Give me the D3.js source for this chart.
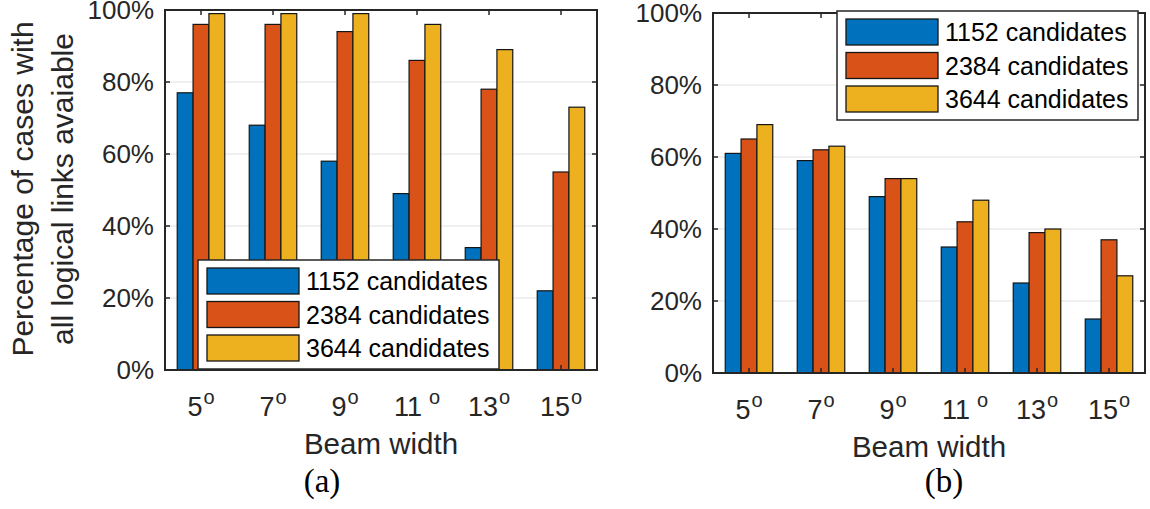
<!DOCTYPE html>
<html>
<head>
<meta charset="utf-8">
<script src="https://cdn.jsdelivr.net/npm/d3@7"></script>
<style>
  body { margin: 0; background: #fff; }
  svg { display: block; font-family: "Liberation Sans", Arial, Helvetica, sans-serif; }
</style>
</head>
<body>
<svg id="chart" width="1150" height="509"></svg>
<script>
// values (percent)
const categories = ["5", "7", "9", "11", "13", "15"];
const seriesNames = ["1152 candidates", "2384 candidates", "3644 candidates"];
const yTicks = [0, 20, 40, 60, 80, 100];

const panelA_1152 = [77, 68, 58, 49, 34, 22];
const panelA_2384 = [96, 96, 94, 86, 78, 55];
const panelA_3644 = [99, 99, 99, 96, 89, 73];

const panelB_1152 = [61, 59, 49, 35, 25, 15];
const panelB_2384 = [65, 62, 54, 42, 39, 37];
const panelB_3644 = [69, 63, 54, 48, 40, 27];

const colors = ["#0072BD", "#D95319", "#EDB120"];
const axisColor = "#262626";

const svg = d3.select("#chart");

function drawPanel(opts) {
  const { x0, x1, y0, y1, series, legend, caption, captionX } = opts;
  const g = svg.append("g");

  const x = d3.scaleBand().domain(categories).range([x0, x1]).paddingInner(0.34).paddingOuter(0.17);
  const xs = d3.scaleBand().domain(d3.range(series.length)).range([0, x.bandwidth()]);
  const y = d3.scaleLinear().domain([0, 100]).range([y1, y0]);

  // grid
  g.selectAll(".grid").data(yTicks.slice(1, -1)).join("line")
    .attr("x1", x0).attr("x2", x1)
    .attr("y1", d => y(d)).attr("y2", d => y(d))
    .attr("stroke", "#e1e1e1").attr("stroke-width", 1.2);

  // bars
  series.forEach((vals, si) => {
    g.selectAll(".bar" + si).data(vals).join("rect")
      .attr("x", (d, i) => x(categories[i]) + xs(si))
      .attr("width", xs.bandwidth())
      .attr("y", d => y(d))
      .attr("height", d => y(0) - y(d))
      .attr("fill", colors[si])
      .attr("stroke", "#151515").attr("stroke-width", 1.2);
  });

  // ticks on all sides, pointing in
  const tl = 5;
  g.selectAll(".ytl").data(yTicks).join("line")
    .attr("x1", x0).attr("x2", x0 + tl)
    .attr("y1", d => y(d)).attr("y2", d => y(d))
    .attr("stroke", axisColor).attr("stroke-width", 1.5);
  g.selectAll(".ytr").data(yTicks).join("line")
    .attr("x1", x1).attr("x2", x1 - tl)
    .attr("y1", d => y(d)).attr("y2", d => y(d))
    .attr("stroke", axisColor).attr("stroke-width", 1.5);
  g.selectAll(".xtb").data(categories).join("line")
    .attr("x1", d => x(d) + x.bandwidth() / 2).attr("x2", d => x(d) + x.bandwidth() / 2)
    .attr("y1", y1).attr("y2", y1 - tl)
    .attr("stroke", axisColor).attr("stroke-width", 1.5);
  g.selectAll(".xtt").data(categories).join("line")
    .attr("x1", d => x(d) + x.bandwidth() / 2).attr("x2", d => x(d) + x.bandwidth() / 2)
    .attr("y1", y0).attr("y2", y0 + tl)
    .attr("stroke", axisColor).attr("stroke-width", 1.5);

  // box
  g.append("rect")
    .attr("x", x0).attr("y", y0).attr("width", x1 - x0).attr("height", y1 - y0)
    .attr("fill", "none").attr("stroke", axisColor).attr("stroke-width", 2);

  // y tick labels
  g.selectAll(".ylab").data(yTicks).join("text")
    .attr("x", x0 - 11).attr("y", d => y(d) + 9)
    .attr("text-anchor", "end")
    .attr("font-size", 26).attr("fill", axisColor)
    .text(d => d + "%");

  // x tick labels with superscript degree
  const xl = g.selectAll(".xlab").data(categories).join("text")
    .attr("x", d => x(d) + x.bandwidth() / 2).attr("y", y1 + 46)
    .attr("text-anchor", "middle")
    .attr("font-size", 27).attr("fill", axisColor);
  xl.append("tspan").text(d => d);
  xl.append("tspan")
    .attr("dx", d => d === "11" ? 7 : 1).attr("dy", -12)
    .attr("font-size", 20)
    .text("o");

  // x axis title
  g.append("text")
    .attr("x", (x0 + x1) / 2).attr("y", y1 + 84)
    .attr("text-anchor", "middle")
    .attr("font-size", 29.5).attr("fill", axisColor)
    .text("Beam width");

  // caption
  g.append("text")
    .attr("x", captionX).attr("y", 492)
    .attr("text-anchor", "middle")
    .attr("font-family", "'Liberation Serif', 'Times New Roman', serif")
    .attr("font-size", 33).attr("fill", "#000")
    .text(caption);

  // legend
  const lg = g.append("g").attr("transform", `translate(${legend.x},${legend.y})`);
  lg.append("rect")
    .attr("width", 301).attr("height", 109)
    .attr("fill", "#fff").attr("stroke", axisColor).attr("stroke-width", 1.5);
  seriesNames.forEach((name, i) => {
    lg.append("rect")
      .attr("x", 9).attr("y", 8 + i * 33.5)
      .attr("width", 92).attr("height", 26)
      .attr("fill", colors[i]).attr("stroke", "#151515").attr("stroke-width", 1.3);
    lg.append("text")
      .attr("x", 108).attr("y", 8 + i * 33.5 + 22)
      .attr("font-size", 25).attr("fill", "#000")
      .text(name);
  });
}

drawPanel({
  x0: 165, x1: 597, y0: 10, y1: 370,
  series: [panelA_1152, panelA_2384, panelA_3644],
  legend: { x: 198, y: 260 },
  caption: "(a)", captionX: 322
});

drawPanel({
  x0: 713, x1: 1145, y0: 13, y1: 373,
  series: [panelB_1152, panelB_2384, panelB_3644],
  legend: { x: 837, y: 11 },
  caption: "(b)", captionX: 944
});

// y axis title (two lines, rotated)
const yTitle = ["Percentage of cases with", "all logical links avaiable"];
svg.selectAll(".ytitle").data(yTitle).join("text")
  .attr("transform", (d, i) => `translate(${33 + i * 40},189) rotate(-90)`)
  .attr("text-anchor", "middle")
  .attr("font-size", 30).attr("fill", axisColor)
  .text(d => d);
</script>
</body>
</html>
